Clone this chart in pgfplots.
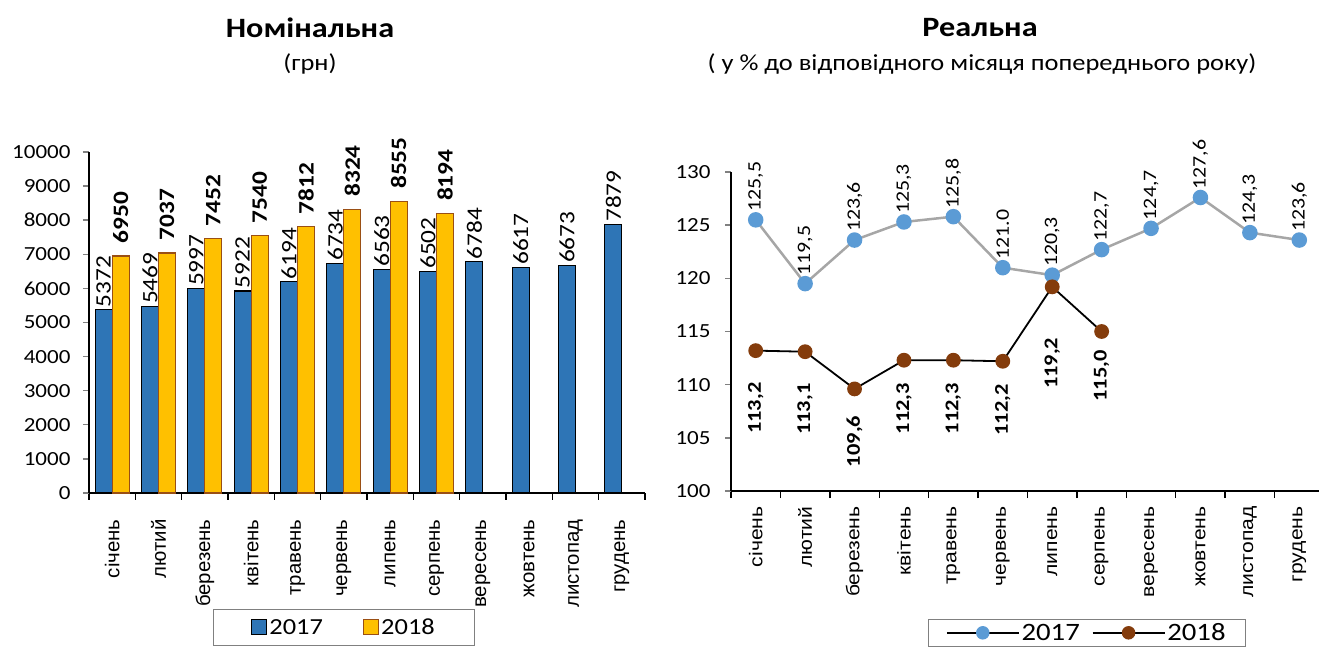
\documentclass[border=0pt]{standalone}
\usepackage{pgfplots}
\pgfplotsset{compat=1.18}
\usepackage{fontspec}
\setmainfont{Carlito}[FakeStretch=1.15]
\newfontfamily\lsansL{Liberation Sans}[FakeStretch=1.02]
\newfontfamily\lsansR{Liberation Sans}[FakeStretch=1.14]
\definecolor{bar17}{HTML}{2E75B6}
\definecolor{bar18}{HTML}{FFC000}
\definecolor{brd18}{HTML}{9A4F14}
\definecolor{pt17}{HTML}{5B9BD5}
\definecolor{pt18}{HTML}{843C0C}
\definecolor{ln17}{HTML}{A6A6A6}
\definecolor{lgbrd}{HTML}{808080}
\begin{document}
\begin{tikzpicture}[x=1pt,y=1pt]
\useasboundingbox (0,0) rectangle (1319,650);
\node[font=\fontsize{28}{30}\selectfont\bfseries] at (310,622) {Номінальна};
\node[font=\fontsize{23}{26}\selectfont] at (310,586) {(грн)};
\node[font=\fontsize{28}{30}\selectfont\bfseries] at (980,622) {Реальна};
\node[font=\fontsize{23}{26}\selectfont] at (982,586) {( у \% до відповідного місяця попереднього року)};
% ---------- left chart
\begin{axis}[
  scale only axis, width=556pt, height=341pt,
  at={(89pt,157pt)}, anchor=south west,
  xmin=0.5, xmax=12.5, ymin=0, ymax=10000,
  axis x line*=bottom, axis y line*=left,
  axis line style={-, line width=1.4pt},
  ytick={0,1000,...,10000},
  /pgf/number format/assume math mode=true,
  yticklabel style={xshift=-9pt, /pgf/number format/.cd, fixed, 1000 sep={}},
  scaled y ticks=false,
  tick label style={font=\fontsize{20}{22}\selectfont},
  xtick={1,...,12},
  xticklabels={січень,лютий,березень,квітень,травень,червень,липень,серпень,вересень,жовтень,листопад,грудень},
  xticklabel style={yshift=-17pt, rotate=90, anchor=east, font=\lsansL\fontsize{20}{22}\selectfont},
  minor xtick={0.5,1.5,...,12.5},
  tick align=outside, tick pos=left,
  major tick length=6pt, minor tick length=7pt,
  x tick style={draw=none}, minor x tick style={draw=black, line width=1.4pt},
  y tick style={line width=1.4pt},
  clip=false,
  legend style={at={(0.4586,-0.3944)}, anchor=center, draw=lgbrd, line width=1pt,
    font=\fontsize{23}{25}\selectfont, legend columns=2, inner xsep=38pt, inner ysep=7pt,
    /tikz/every even column/.append style={column sep=38pt}},
  legend image code/.code={\draw[#1, line width=1.2pt] (0pt,-7pt) rectangle (15pt,8pt);},
]
\addplot[ybar, bar width=17pt, bar shift=-8.5pt, fill=bar17, draw=black, line width=1.2pt,
  nodes near coords, nodes near coords style={xshift=-8.5pt, rotate=90, anchor=west, font=\fontsize{22}{24}\selectfont, inner sep=2pt, /pgf/number format/.cd, fixed, 1000 sep={}}]
  coordinates {(1,5372) (2,5469) (3,5997) (4,5922) (5,6194) (6,6734) (7,6563) (8,6502) (9,6784) (10,6617) (11,6673) (12,7879)};
\addlegendentry{2017}
\addplot[ybar, bar width=17pt, bar shift=8.5pt, fill=bar18, draw=brd18, line width=1.2pt,
  nodes near coords, nodes near coords style={xshift=8.5pt, yshift=10pt, rotate=90, anchor=west, font=\fontsize{22}{24}\selectfont\bfseries, inner sep=2pt, /pgf/number format/.cd, fixed, 1000 sep={}}]
  coordinates {(1,6950) (2,7037) (3,7452) (4,7540) (5,7812) (6,8324) (7,8555) (8,8194)};
\addlegendentry{2018}
\end{axis}
% ---------- right chart
\begin{axis}[
  scale only axis, width=593pt, height=319pt,
  at={(731pt,159pt)}, anchor=south west,
  xmin=0.5, xmax=12.5, ymin=100, ymax=130,
  axis x line*=bottom, axis y line*=left,
  axis line style={-, line width=1.4pt},
  ytick={100,105,...,130},
  /pgf/number format/assume math mode=true,
  yticklabel style={xshift=-11pt},
  tick label style={font=\fontsize{20}{22}\selectfont},
  xtick={1,...,12},
  xticklabels={січень,лютий,березень,квітень,травень,червень,липень,серпень,вересень,жовтень,листопад,грудень},
  xticklabel style={yshift=-6pt, rotate=90, anchor=east, font=\lsansR\fontsize{18.5}{20}\selectfont},
  minor xtick={0.5,1.5,...,12.5},
  tick align=outside, tick pos=left,
  major tick length=6pt, minor tick length=7pt,
  x tick style={draw=none}, minor x tick style={draw=black, line width=1.4pt},
  y tick style={line width=1.4pt},
  clip=false,
  legend style={at={(0.600,-0.4013)}, anchor=north, draw=lgbrd, line width=1pt,
    font=\fontsize{25}{27}\selectfont, legend columns=2, inner xsep=18pt, inner ysep=2pt,
    /tikz/every even column/.append style={column sep=10pt}},
  legend image code/.code={\draw[mark repeat=2,mark phase=2,#1] plot coordinates {(0pt,0pt) (36pt,0pt) (72pt,0pt)};},
]
\addlegendimage{black, line width=1.5pt, mark=*, mark size=6pt, mark options={draw=pt17, fill=pt17}}
\addlegendentry{2017}
\addlegendimage{black, line width=1.5pt, mark=*, mark size=6pt, mark options={draw=pt18, fill=pt18}}
\addlegendentry{2018}
\addplot[forget plot, ln17, line width=2.5pt, mark=*, mark size=6.5pt, mark options={draw=pt17, fill=pt17},
  point meta=explicit symbolic,
  nodes near coords, nodes near coords style={yshift=5pt, rotate=90, anchor=west, font=\fontsize{19}{20}\selectfont, text=black, inner sep=2pt}]
  table[x=x, y=y, meta=lab] {
x y lab
1 125.5 {125,5}
2 119.5 {119,5}
3 123.6 {123,6}
4 125.3 {125,3}
5 125.8 {125,8}
6 121.0 {121.0}
7 120.3 {120,3}
8 122.7 {122,7}
9 124.7 {124,7}
10 127.6 {127,6}
11 124.3 {124,3}
12 123.6 {123,6}
};
\addplot[forget plot, black, line width=1.8pt, mark=*, mark size=6.5pt, mark options={draw=pt18, fill=pt18},
  point meta=explicit symbolic,
  visualization depends on={\thisrow{off}\as\myoff},
  nodes near coords, nodes near coords style={yshift=-\myoff pt, rotate=90, anchor=east, font=\fontsize{19.5}{20}\selectfont\bfseries, text=black, inner sep=0pt}]
  table[x=x, y=y, meta=lab] {
x y lab off
1 113.2 {113,2} 31
2 113.1 {113,1} 31
3 109.6 {109,6} 26
4 112.3 {112,3} 22
5 112.3 {112,3} 22
6 112.2 {112,2} 22
7 119.2 {119,2} 50
8 115.0 {115,0} 18
};
\end{axis}
\end{tikzpicture}
\end{document}
